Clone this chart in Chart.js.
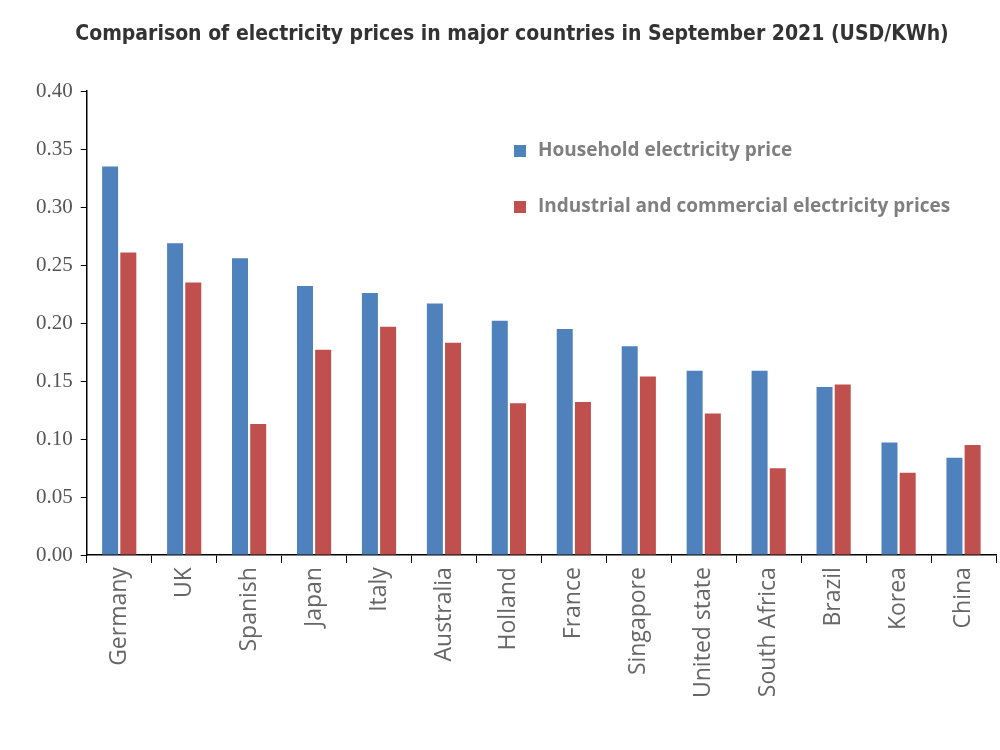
<!DOCTYPE html>
<html><head><meta charset="utf-8">
<script src="https://cdn.jsdelivr.net/npm/chart.js@4"></script>
<style>body{margin:0;background:#fff}</style>
</head><body>
<canvas id="c" width="1000" height="750"></canvas>
<script>
const categories=["Germany","UK","Spanish","Japan","Italy","Australia","Holland","France","Singapore","United state","South Africa","Brazil","Korea","China"];
const household=[0.335,0.269,0.256,0.232,0.226,0.217,0.202,0.195,0.180,0.159,0.159,0.145,0.097,0.084];
const industrial=[0.261,0.235,0.113,0.177,0.197,0.183,0.131,0.132,0.154,0.122,0.075,0.147,0.071,0.095];
const seriesNames=["Household electricity price","Industrial and commercial electricity prices"];
const floatLegend={id:'fl',afterDraw(ch){const c=ch.ctx;c.save();c.font='bold 19px "Open Sans"';c.textBaseline='middle';
ch.data.datasets.forEach((d,i)=>{const y=151+i*56;c.fillStyle=d.backgroundColor;c.fillRect(514,y-6,12,12);c.fillStyle='#7f7f7f';c.fillText(d.label,538,y);});c.restore();}};
new Chart(document.getElementById('c'),{type:'bar',
data:{labels:categories,datasets:[
{label:seriesNames[0],data:household,backgroundColor:'#4f81bd',categoryPercentage:0.56,barPercentage:0.88},
{label:seriesNames[1],data:industrial,backgroundColor:'#c0504d',categoryPercentage:0.56,barPercentage:0.88}]},
options:{responsive:false,animation:false,layout:{padding:{top:22,right:4,left:28,bottom:48}},
plugins:{legend:{display:false},tooltip:{enabled:false},
title:{display:true,text:'Comparison of electricity prices in major countries in September 2021 (USD/KWh)',font:{family:'"Liberation Sans Narrow","DejaVu Sans Condensed"',size:21,weight:'bold'},color:'#333',padding:{bottom:44}}},
scales:{x:{grid:{display:true,drawOnChartArea:false,offset:true,tickLength:8,color:'#000'},border:{color:'#000',width:1.5},
ticks:{maxRotation:90,minRotation:90,font:{family:'"Open Sans"',size:23},color:'#666',padding:4}},
y:{min:0,max:0.4,grid:{drawOnChartArea:false,tickLength:6,color:'#000'},border:{color:'#000',width:1.5},
ticks:{stepSize:0.05,callback:v=>v.toFixed(2),font:{family:'"Liberation Serif"',size:21},color:'#555',padding:8}}}},
plugins:[floatLegend]});
</script></body></html>
